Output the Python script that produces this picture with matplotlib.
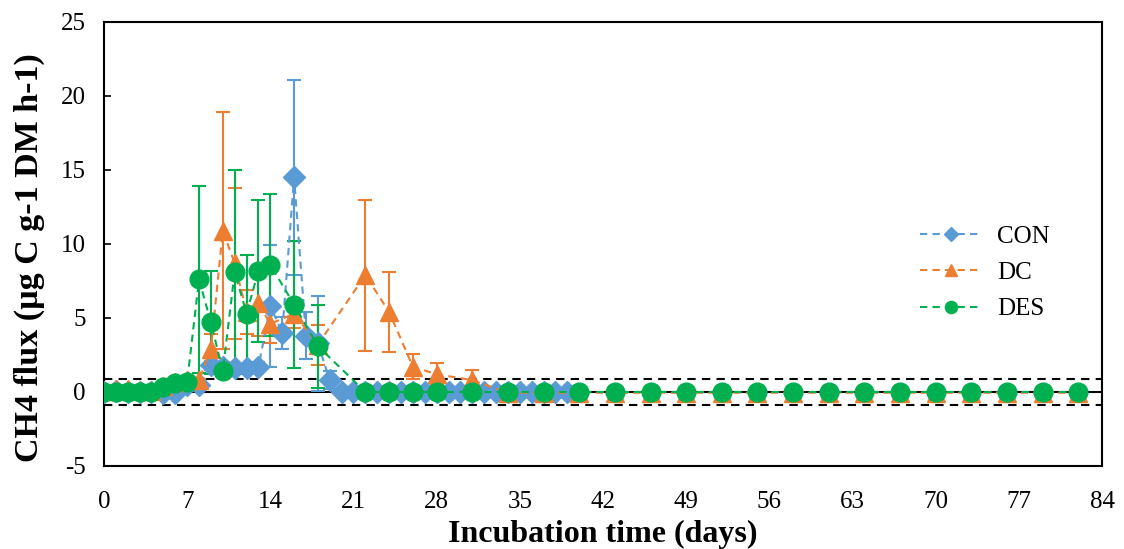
import numpy as np
import matplotlib.pyplot as plt

# sampling days and values
con_days = list(range(0, 40))
con_vals = [0, 0.1, 0, 0, 0, -0.1, -0.1, 0.5, 0.5, 1.8, 1.7, 1.6, 1.6, 1.7,
            5.8, 4.0, 14.5, 3.8, 3.3, 0.8] + [0] * 20
con_err = [0.1] * 9 + [0.3, 0.3, 0.3, 0.3, 0.3, 4.1, 1.1, 6.6, 1.6, 3.2, 0.6] + [0.05] * 20

trt_days = list(range(0, 15)) + [16, 18, 22, 24, 26, 28, 31] + list(range(34, 83, 3))

dc_vals = [0.1, 0.2, 0.2, 0.1, 0.1, 0.4, 0.7, 0.8, 0.8, 2.9, 10.9, 8.7, 5.4, 6.0,
           4.6, 5.3, 3.2, 7.9, 5.4, 1.7, 1.2, 0.8] + [-0.05] * 17
dc_err = [0.1] * 9 + [1.0, 8.0, 5.1, 1.5, 2.2, 1.3, 1.0, 1.35, 5.1, 2.7, 0.85, 0.75, 0.7] + [0.05] * 17

des_vals = [0, 0, 0, 0, 0, 0.35, 0.6, 0.7, 7.6, 4.7, 1.4, 8.1, 5.3, 8.2,
            8.6, 5.9, 3.1] + [0] * 22
des_err = [0.1] * 8 + [6.3, 3.5, 0.3, 6.9, 3.95, 4.8, 4.8, 4.3, 2.8] + [0.05] * 22

x_ticks = list(range(0, 85, 7))
y_ticks = list(range(-5, 30, 5))
detect_limit = 0.85

plt.rcParams['font.family'] = ['Liberation Serif', 'DejaVu Serif']
plt.rcParams['axes.unicode_minus'] = False

fig = plt.figure(figsize=(11.24, 5.49), dpi=100)
ax = fig.add_axes([0.0925, 0.1512, 0.888, 0.8088])

# reference lines
ax.axhline(0, color='black', lw=1.5, zorder=1)
ax.axhline(detect_limit, color='black', lw=1.5, ls=(0, (4, 3)), zorder=1)
ax.axhline(-detect_limit, color='black', lw=1.5, ls=(0, (4, 3)), zorder=1)

series = [
    ("CON", con_days, con_vals, con_err, '#5B9BD5', 'D', 11),
    ("DC", trt_days, dc_vals, dc_err, '#ED7D31', '^', 13),
    ("DES", trt_days, des_vals, des_err, '#00B050', 'o', 13.5),
]
for name, d, v, e, col, mk, ms in series:
    ax.errorbar(d, v, yerr=e, color=col, marker=mk, markersize=ms,
                ls=(0, (3.5, 2.5)), lw=1.5, elinewidth=1.5, capsize=5,
                capthick=1.5, label=name, zorder=3)

ax.set_xlim(0, 84)
ax.set_ylim(-5, 25)
ax.set_xticks(x_ticks)
ax.set_yticks(y_ticks)
ax.tick_params(axis='y', direction='in', length=5, width=1.2, labelsize=18, pad=13)
ax.tick_params(axis='x', length=0, labelsize=18, pad=18)
for s in ax.spines.values():
    s.set_linewidth(1.5)

ax.set_xlabel("Incubation time (days)", fontsize=23, fontweight='bold', labelpad=5)
ax.set_ylabel("CH4 flux (µg C g-1 DM h-1)", fontsize=24.5, fontweight='bold')
ax.yaxis.set_label_coords(-0.059, 0.47)

handles, labels = ax.get_legend_handles_labels()
handles = [h[0] for h in handles]
ax.legend(handles, labels, loc='center left', bbox_to_anchor=(0.795, 0.435),
          frameon=False, fontsize=18, handlelength=2.5, markerscale=0.65,
          labelspacing=0.55, handletextpad=0.6)

plt.savefig('out.png', dpi=100)
